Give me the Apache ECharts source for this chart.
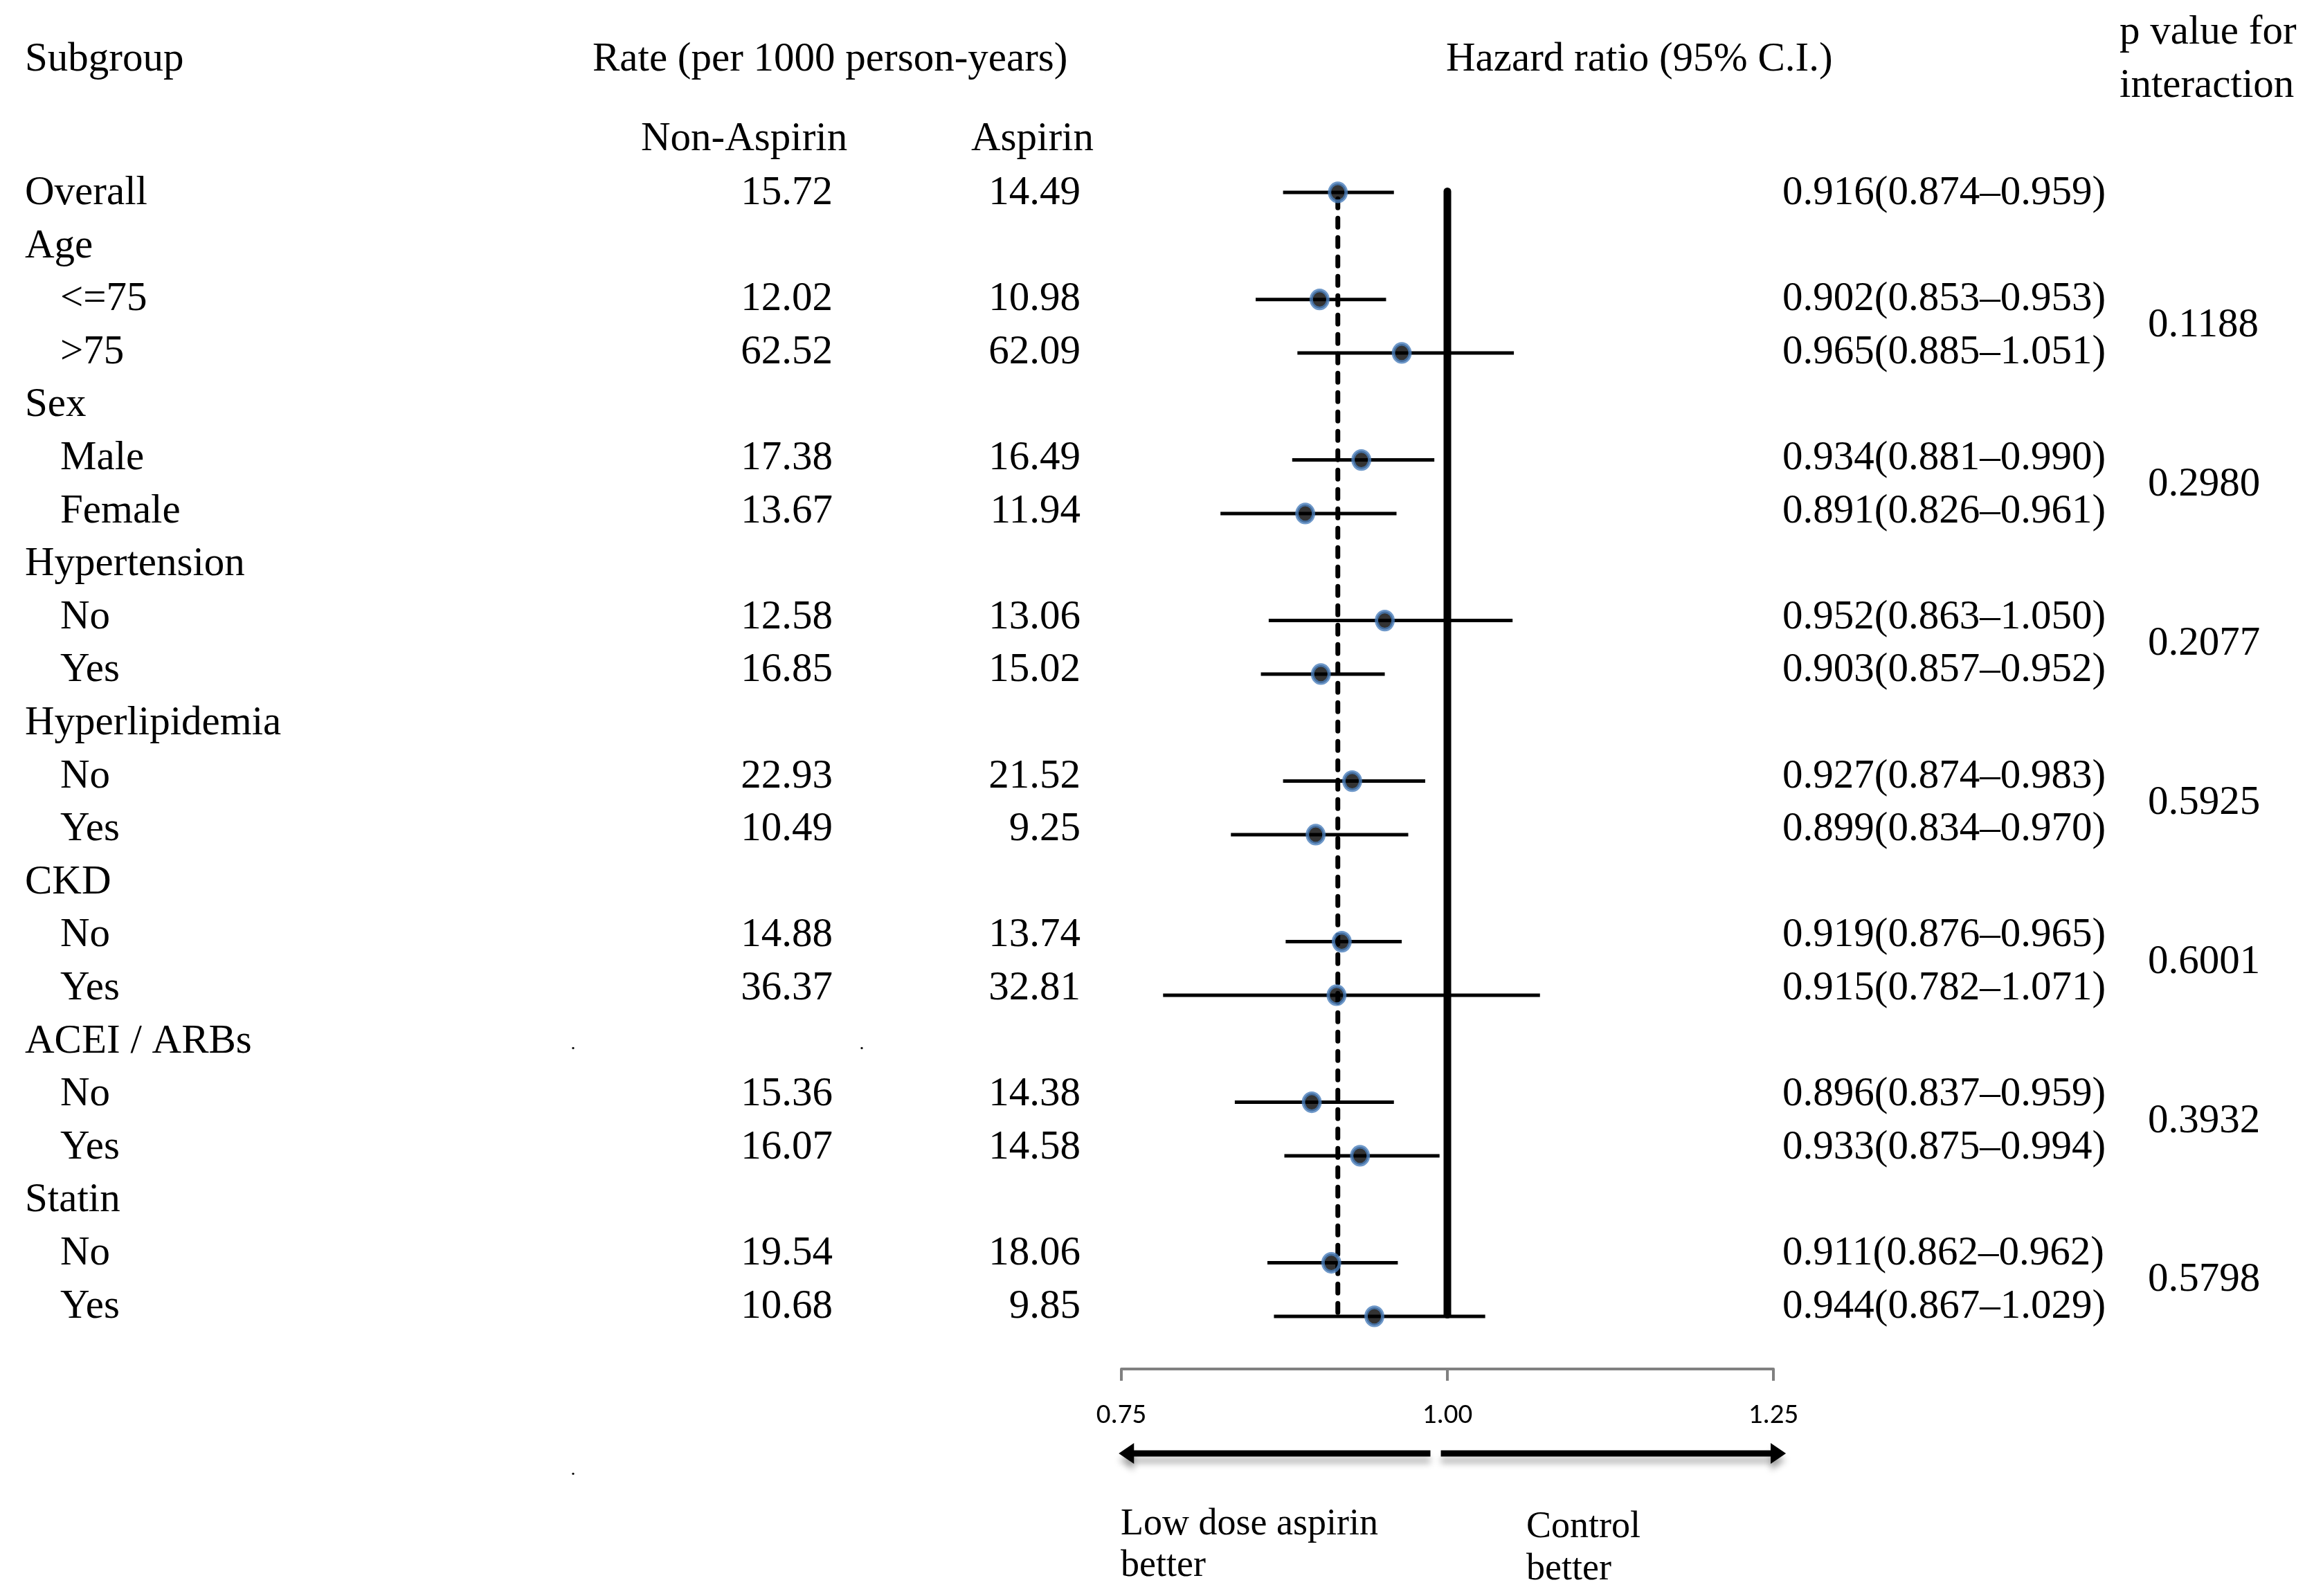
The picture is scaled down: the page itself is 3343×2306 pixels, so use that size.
<!DOCTYPE html>
<html>
<head>
<meta charset="utf-8">
<script src="https://cdn.jsdelivr.net/npm/echarts@6/dist/echarts.min.js"></script>
<style>
html,body{margin:0;padding:0;background:#fff;}
#chart{width:3343px;height:2306px;}
</style>
</head>
<body>
<div id="chart"></div>
<script>
// ---------------- data ----------------
const rowLabels = ['Overall','Age','<=75','>75','Sex','Male','Female','Hypertension','No','Yes',
  'Hyperlipidemia','No','Yes','CKD','No','Yes','ACEI / ARBs','No','Yes','Statin','No','Yes'];
const rowLevel = [0,0,1,1,0,1,1,0,1,1,0,1,1,0,1,1,0,1,1,0,1,1];
const rateNonAspirin = [15.72,null,12.02,62.52,null,17.38,13.67,null,12.58,16.85,null,22.93,10.49,null,14.88,36.37,null,15.36,16.07,null,19.54,10.68];
const rateAspirin = [14.49,null,10.98,62.09,null,16.49,11.94,null,13.06,15.02,null,21.52,9.25,null,13.74,32.81,null,14.38,14.58,null,18.06,9.85];
const hrEst  = [0.916,null,0.902,0.965,null,0.934,0.891,null,0.952,0.903,null,0.927,0.899,null,0.919,0.915,null,0.896,0.933,null,0.911,0.944];
const hrLow  = [0.874,null,0.853,0.885,null,0.881,0.826,null,0.863,0.857,null,0.874,0.834,null,0.876,0.782,null,0.837,0.875,null,0.862,0.867];
const hrHigh = [0.959,null,0.953,1.051,null,0.990,0.961,null,1.050,0.952,null,0.983,0.970,null,0.965,1.071,null,0.959,0.994,null,0.962,1.029];
const pInteraction = ['0.1188','0.2980','0.2077','0.5925','0.6001','0.3932','0.5798'];
const pGroupFirstRow = [2,5,8,11,14,17,20];
const xTicks = [0.75, 1.00, 1.25];
const refValue = 1.0;

// ---------------- layout ----------------
const SERIF = "'Liberation Serif','Times New Roman',serif";
const FONT = '59px ' + SERIF;
const TICKFONT = "Carlito, Calibri, Lato, sans-serif";
const colX = {label0: 36, label1: 87, nonAsp: 1203, asp: 1561, hr: 2575, p: 3103};

const cells = [];
rowLabels.forEach((lab, i) => {
  cells.push([rowLevel[i] ? colX.label1 : colX.label0, i, lab, 'left']);
  if (rateNonAspirin[i] != null) cells.push([colX.nonAsp, i, rateNonAspirin[i].toFixed(2), 'right']);
  if (rateAspirin[i] != null) cells.push([colX.asp, i, rateAspirin[i].toFixed(2), 'right']);
  if (hrEst[i] != null) cells.push([colX.hr, i,
    hrEst[i].toFixed(3) + '(' + hrLow[i].toFixed(3) + '\u2013' + hrHigh[i].toFixed(3) + ')', 'left']);
});
pInteraction.forEach((p, k) => cells.push([colX.p, pGroupFirstRow[k] + 0.5, p, 'left']));
// stray dots present in the original figure
const strayDots = [[828, 16.05], [1245, 16.05], [828, 24.08]];
strayDots.forEach(d => cells.push([d[0], d[1], '.', 'center', '28px ' + SERIF]));

const ciRows = [], ptRows = [];
hrEst.forEach((v, i) => { if (v != null) { ciRows.push([hrLow[i], hrHigh[i], i]); ptRows.push([v, i]); } });

const arrows = [[0.987, 0.748], [0.995, 1.2596]];

const chart = echarts.init(document.getElementById('chart'), null, {renderer: 'canvas'});

function hdr(text, left, cy, size) {
  size = size || 59;
  return {type: 'text', x: left, y: cy, style: {text: text, font: size + 'px ' + SERIF, fill: '#000',
    align: 'left', verticalAlign: 'middle'}};
}

const option = {
  animation: false,
  backgroundColor: '#fff',
  grid: [
    {left: 0, top: 0, width: 3343, height: 2306},
    {left: 1620, top: 239.3, width: 942, height: 1738.7},
    {left: 1620, top: 2080, width: 942, height: 40}
  ],
  xAxis: [
    {gridIndex: 0, type: 'value', min: 0, max: 3343, show: false},
    {gridIndex: 1, type: 'value', min: 0.75, max: 1.25, interval: 0.25,
      axisLine: {show: true, onZero: false, lineStyle: {color: '#808080', width: 4}},
      axisTick: {show: true, length: 17, lineStyle: {color: '#808080', width: 4}},
      axisLabel: {show: true, margin: 47, fontSize: 41, lineHeight: 41, fontFamily: TICKFONT, color: '#000',
        formatter: v => v.toFixed(2)},
      splitLine: {show: false}},
    {gridIndex: 2, type: 'value', min: 0.75, max: 1.25, show: false}
  ],
  yAxis: [
    {gridIndex: 0, type: 'value', inverse: true, min: -3.6488, max: 26.4556, show: false},
    {gridIndex: 1, type: 'value', inverse: true, min: -0.5, max: 21.984, show: false},
    {gridIndex: 2, type: 'value', min: 0, max: 1, show: false}
  ],
  graphic: [
    hdr('Subgroup', 36, 86),
    hdr('Rate (per 1000 person-years)', 856, 86),
    hdr('Hazard ratio (95% C.I.)', 2089, 86),
    hdr('p value for', 3062, 47),
    hdr('interaction', 3062, 124),
    hdr('Non-Aspirin', 926, 201),
    hdr('Aspirin', 1403, 201),
    hdr('Low dose aspirin', 1619, 2203, 54),
    hdr('better', 1619, 2263, 54),
    hdr('Control', 2205, 2207, 54),
    hdr('better', 2205, 2268, 54)
  ],
  series: [
    { // table text
      type: 'custom', xAxisIndex: 0, yAxisIndex: 0, silent: true,
      data: cells.map(c => [c[0], c[1]]),
      encode: {x: 0, y: 1},
      renderItem: (params, api) => {
        const c = cells[params.dataIndex];
        const p = api.coord([api.value(0), api.value(1)]);
        return {type: 'text', x: p[0], y: p[1],
          style: {text: c[2], fill: '#000', font: c[4] || FONT, align: c[3], verticalAlign: 'middle'}};
      }
    },
    { // reference line at HR = 1
      type: 'line', xAxisIndex: 1, yAxisIndex: 1, symbol: 'none', silent: true, z: 2,
      data: [[refValue, -0.02], [refValue, 20.97]],
      lineStyle: {color: '#000', width: 11, cap: 'round'}
    },
    { // overall HR dashed line
      type: 'line', xAxisIndex: 1, yAxisIndex: 1, symbol: 'none', silent: true, z: 2,
      data: [[hrEst[0], 0.12], [hrEst[0], 20.95]],
      lineStyle: {color: '#000', width: 7, type: [13, 15], cap: 'round'}
    },
    { // CI whiskers
      type: 'custom', xAxisIndex: 1, yAxisIndex: 1, silent: true, z: 3,
      data: ciRows, encode: {x: [0, 1], y: 2},
      renderItem: (params, api) => {
        const s = api.coord([api.value(0), api.value(2)]);
        const e = api.coord([api.value(1), api.value(2)]);
        return {type: 'line', shape: {x1: s[0], y1: s[1], x2: e[0], y2: e[1]},
          style: {stroke: '#000', lineWidth: 5}};
      }
    },
    { // point estimates
      type: 'scatter', xAxisIndex: 1, yAxisIndex: 1, silent: true, z: 4,
      data: ptRows, symbol: 'circle', symbolSize: [24, 26],
      itemStyle: {color: '#000', borderColor: '#4a7ebb', borderWidth: 5}
    },
    { // direction arrows
      type: 'custom', xAxisIndex: 2, yAxisIndex: 2, silent: true,
      data: arrows.map(a => [a[0], a[1], 0.5]), encode: {x: [0, 1], y: 2},
      renderItem: (params, api) => {
        const s = api.coord([api.value(0), api.value(2)]);
        const t = api.coord([api.value(1), api.value(2)]);
        const dir = t[0] > s[0] ? 1 : -1;
        const head = 22, half = 15;
        const shadow = {shadowBlur: 10, shadowOffsetY: 10, shadowColor: 'rgba(0,0,0,0.28)'};
        return {type: 'group', children: [
          {type: 'line', shape: {x1: s[0], y1: s[1], x2: t[0] - dir * head * 0.6, y2: t[1]},
            style: Object.assign({stroke: '#000', lineWidth: 9}, shadow)},
          {type: 'polygon', shape: {points: [[t[0], t[1]], [t[0] - dir * head, t[1] - half], [t[0] - dir * head, t[1] + half]]},
            style: Object.assign({fill: '#000'}, shadow)}
        ]};
      }
    }
  ]
};
chart.setOption(option);
</script>
</body>
</html>
